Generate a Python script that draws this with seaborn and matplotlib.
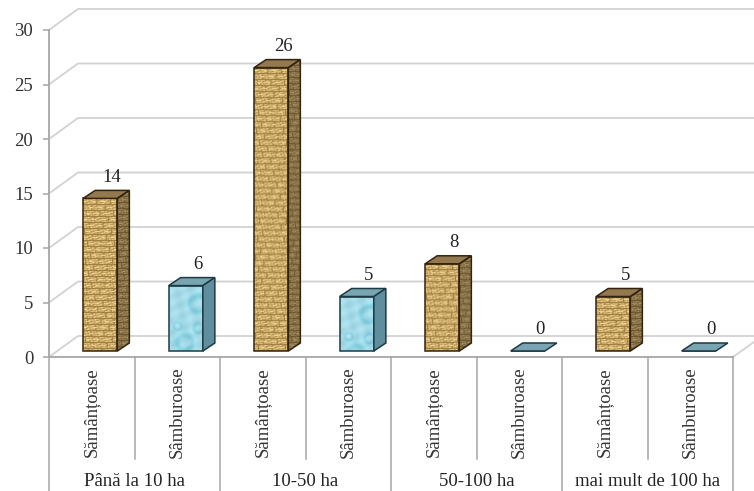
import matplotlib
matplotlib.use('Agg')
from matplotlib.patches import Polygon
from matplotlib.colors import to_rgb
import matplotlib.pyplot as plt
import seaborn as sns
import pandas as pd
import numpy as np

plt.rcParams['font.family'] = ['Liberation Serif', 'DejaVu Serif']

# values
groups = ['Până la 10 ha', '10-50 ha', '50-100 ha', 'mai mult de 100 ha']
types = ['Sămânțoase', 'Sâmburoase']
samantoase = [14, 26, 8, 5]
samburoase = [6, 5, 0, 0]
y_ticks = [0, 5, 10, 15, 20, 25, 30]

rows = []
for i, g in enumerate(groups):
    rows.append({'cat': f'{g}|{types[0]}', 'tip': types[0], 'val': samantoase[i]})
    rows.append({'cat': f'{g}|{types[1]}', 'tip': types[1], 'val': samburoase[i]})
df = pd.DataFrame(rows)

# one pixel in data units
PX = 1 / 85.5
PY = 1 / 10.9


def brick_texture(h, w, dark=1.0):
    yy, xx = np.mgrid[0:h, 0:w]
    img = np.ones((h, w, 3)) * np.array(to_rgb('#cfae6c'))
    # soft colour changes across the bricks
    shade = 0.10 * np.sin(xx * 1.7 + yy * 0.6) * np.cos(yy * 1.1 - xx * 0.4)
    shade = shade + 0.06 * np.sin(xx * 0.5 + yy * 2.3)
    img = img + shade[..., None]
    row = yy // 6
    hline = yy % 6 == 0
    vline = (xx + row * 5) % 13 == 0
    img[hline | vline] = np.array(to_rgb('#a08145'))
    light = (yy % 6 == 3) & ((xx + row * 3) % 9 < 4)
    img[light] = np.array(to_rgb('#ead29a'))
    return np.clip(img * dark, 0, 1)


def water_texture(h, w):
    yy, xx = np.mgrid[0:h, 0:w]
    img = np.ones((h, w, 3)) * np.array(to_rgb('#a6dce9'))
    wave = 0.04 * np.sin(xx * 0.35 + yy * 0.22) * np.sin(yy * 0.31 - xx * 0.12)
    img = img + wave[..., None]
    # bubbles, measured from the top of the face
    for cx, cy, r in [(28, 18, 9), (8, 40, 4), (15, 56, 8), (28, 42, 5)]:
        d = np.hypot(xx - cx, yy - cy) / r
        ring = np.exp(-(d - 0.9) ** 2 * 10)
        img = img + ring[..., None] * np.array([-0.13, -0.05, -0.03])
    return np.clip(img, 0, 1)


fig = plt.figure(figsize=(7.54, 4.91), dpi=100)
ax = fig.add_axes([49 / 754, (491 - 357) / 491, 684 / 754, 327 / 491])

sns.barplot(data=df, x='cat', y='val', hue='tip', hue_order=types, dodge=False,
            width=0.4, palette=['#d6b675', '#a9dfeb'], legend=False, ax=ax,
            saturation=1, zorder=3)

shift_x = 8.5 * PX
floor = 6 * PY
dx = 12 * PX
dy = 8 * PY
styles = {
    0: dict(edge='#33240f', top='#94794f', side=0.68),
    1: dict(edge='#1d3a45', top='#79a5b2', side='#5f8f9f'),
}

for k, bars in enumerate(ax.containers):
    st = styles[k]
    for p in bars:
        x0 = p.get_x() + shift_x
        w = p.get_width()
        h = p.get_height()
        p.set_x(x0)
        p.set_y(floor)
        p.set_edgecolor(st['edge'])
        p.set_linewidth(1.1)
        y1 = floor + h

        top = Polygon([(x0, y1), (x0 + w, y1), (x0 + w + dx, y1 + dy), (x0 + dx, y1 + dy)],
                      closed=True, fc=st['top'], ec=st['edge'], lw=1.1, zorder=4)
        ax.add_patch(top)

        if h > 0:
            px_h = int(round(h / PY))
            px_w = int(round(w / PX))
            tex = brick_texture(px_h, px_w) if k == 0 else water_texture(px_h, px_w)
            im = ax.imshow(tex, extent=(x0, x0 + w, floor, y1), aspect='auto',
                           interpolation='bilinear', zorder=3.5)
            im.set_clip_path(p)
            p.set_facecolor('none')
            p.set_zorder(4)

            side = Polygon([(x0 + w, floor), (x0 + w + dx, floor + dy),
                            (x0 + w + dx, y1 + dy), (x0 + w, y1)],
                           closed=True, fc='none', ec=st['edge'], lw=1.1, zorder=4)
            ax.add_patch(side)
            if k == 0:
                tex2 = brick_texture(px_h + 8, 14, dark=st['side'])
                im2 = ax.imshow(tex2, extent=(x0 + w, x0 + w + dx, floor, y1 + dy),
                                aspect='auto', interpolation='bilinear', zorder=3.5)
                im2.set_clip_path(side)
            else:
                side.set_facecolor(st['side'])

        ax.text(x0 + w / 2 + dx, y1 + 21 * PY, f'{h:.0f}', ha='center', va='center',
                fontsize=13.5, color='#222222', zorder=5)

# back wall lines
grid_c = '#d2d2d2'
back_dx = 29 * PX
back_dy = 21 * PY
x_left = -0.5
x_right = 7.5
x_end = x_right + 21 * PX
for t in y_ticks:
    ax.plot([x_left, x_left + back_dx, x_end], [t, t + back_dy, t + back_dy],
            color=grid_c, lw=1.3, zorder=1, clip_on=False)
ax.plot([x_right, x_end], [0, 15 * PY], color=grid_c, lw=1.3, zorder=1, clip_on=False)

# lines under the chart
axis_c = '#a6a6a6'
y_inner = -102 * PY
y_bottom = -134 * PY
ax.plot([x_left, x_right], [0, 0], color=axis_c, lw=1.3, zorder=2, clip_on=False)
for i in range(9):
    y_low = y_bottom if i % 2 == 0 else y_inner
    ax.plot([x_left + i, x_left + i], [0, y_low], color=axis_c, lw=1.1, zorder=2, clip_on=False)

for i, row in df.iterrows():
    ax.text(i, -55 * PY, row['tip'], rotation=90, ha='center', va='center',
            fontsize=13.5, color='#333333', clip_on=False)
for i, g in enumerate(groups):
    ax.text(2 * i + 0.5, -124 * PY, g, ha='center', va='center', fontsize=13.5,
            color='#222222', clip_on=False)

ax.set_xlim(x_left, x_right)
ax.set_ylim(0, 30)
ax.set_xticks([])
ax.set_yticks(y_ticks)
ax.set_yticklabels([str(t) for t in y_ticks], fontsize=13.5, color='#333333')
ax.tick_params(axis='y', length=4.3, width=1.1, color=axis_c, pad=7)
ax.set_xlabel('')
ax.set_ylabel('')
ax.patch.set_visible(False)
for name in ['top', 'right', 'bottom']:
    ax.spines[name].set_visible(False)
ax.spines['left'].set_color(axis_c)
ax.spines['left'].set_linewidth(1.3)

fig.savefig('out.png', dpi=100)
